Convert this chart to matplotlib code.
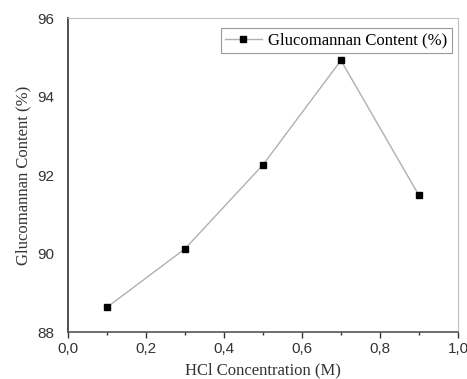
import matplotlib.pyplot as plt
from matplotlib.ticker import FuncFormatter, MultipleLocator

# data
hcl = [0.1, 0.3, 0.5, 0.7, 0.9]
gluco = [88.63, 90.12, 92.26, 94.92, 91.48]

x_ticks = [0.0, 0.2, 0.4, 0.6, 0.8, 1.0]
y_ticks = [88, 90, 92, 94, 96]

fig = plt.figure(figsize=(4.67, 3.79), dpi=100)
ax = fig.add_axes([0.1456, 0.124, 0.835, 0.8285])

ax.plot(hcl, gluco, color="#b0b0b0", lw=1.0, marker="s", markersize=5,
        markerfacecolor="black", markeredgecolor="black",
        label="Glucomannan Content (%)")

ax.set_xlim(0, 1.0)
ax.set_ylim(88, 96)
ax.set_xticks(x_ticks)
ax.set_yticks(y_ticks)
ax.xaxis.set_minor_locator(MultipleLocator(0.1))
ax.xaxis.set_major_formatter(FuncFormatter(lambda v, p: f"{v:.1f}".replace(".", ",")))

sans = "Liberation Sans"
serif = "Liberation Serif"
for lab in ax.get_xticklabels() + ax.get_yticklabels():
    lab.set_fontfamily(sans)
    lab.set_fontsize(11)
    lab.set_color("#333333")

ax.tick_params(axis="x", which="major", direction="out", length=4, width=1, color="#333333", pad=3)
ax.tick_params(axis="x", which="minor", direction="out", length=2, width=1, color="#333333")
ax.tick_params(axis="y", which="major", length=0, pad=10)

ax.spines["left"].set_color("#333333")
ax.spines["left"].set_linewidth(1.2)
ax.spines["bottom"].set_color("#555555")
ax.spines["bottom"].set_linewidth(1.2)
ax.spines["top"].set_color("#c0c0c0")
ax.spines["right"].set_color("#c0c0c0")

ax.set_xlabel("HCl Concentration (M)", fontfamily=serif, fontsize=12, color="#333333", labelpad=5)
ax.set_ylabel("Glucomannan Content (%)", fontfamily=serif, fontsize=12, color="#333333", labelpad=4)

leg = ax.legend(loc="upper right", bbox_to_anchor=(0.993, 0.978), prop={"family": serif, "size": 12},
                fancybox=False, edgecolor="#999999", framealpha=1, borderpad=0.25,
                handlelength=2.2, handletextpad=0.4, borderaxespad=0.2)
leg.get_frame().set_linewidth(0.8)

fig.savefig("out.png", dpi=100)
